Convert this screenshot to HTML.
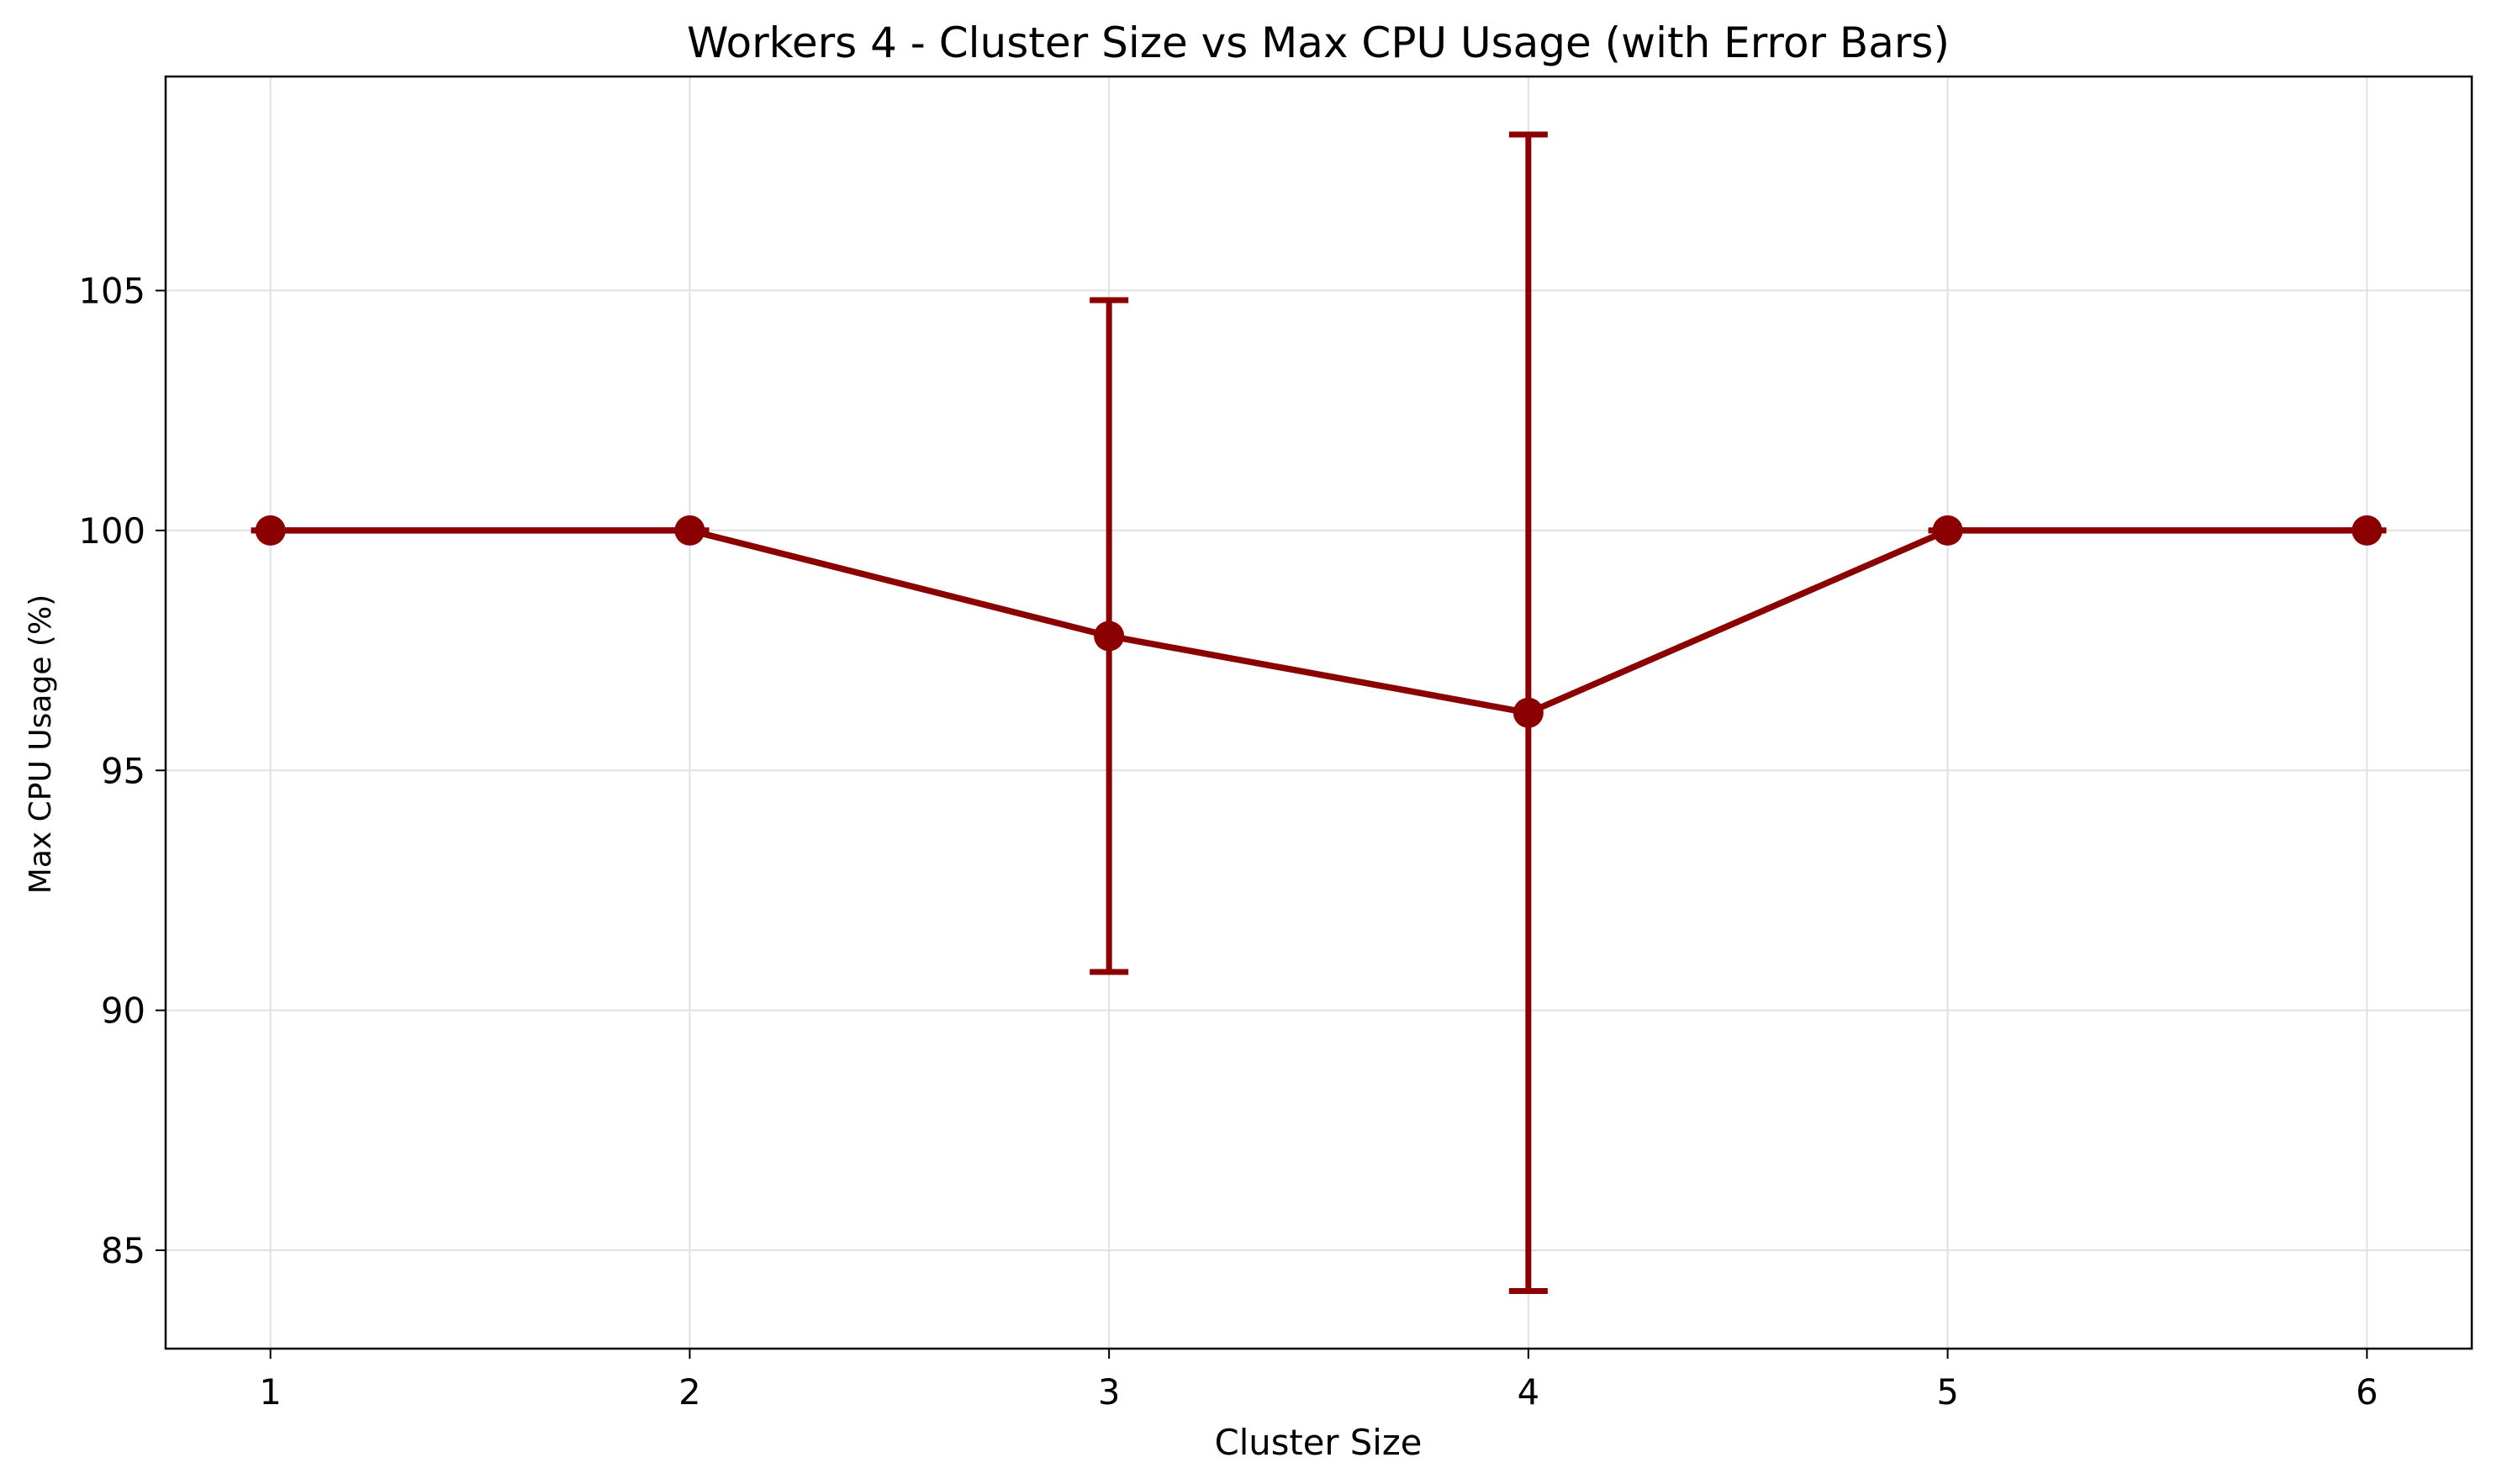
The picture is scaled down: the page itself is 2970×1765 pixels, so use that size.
<!DOCTYPE html>
<html><head><meta charset="utf-8"><style>
html,body{margin:0;padding:0;background:#fff;}
svg{display:block;font-family:"DejaVu Sans","Liberation Sans",sans-serif;}
</style></head><body>
<svg id="chart" width="2970" height="1765" viewBox="0 0 2970 1765" xmlns="http://www.w3.org/2000/svg">
<rect width="2970" height="1765" fill="#fff"/>
<g id="grid"></g>
<g id="ticks"></g>
<g id="errs"></g>
<g id="series"></g>
<rect x="197" y="91" width="2743" height="1513" fill="none" stroke="#000" stroke-width="2.5"/>
<text x="1568" y="68" text-anchor="middle" font-size="50">Workers 4 - Cluster Size vs Max CPU Usage (with Error Bars)</text>
<text x="1568" y="1730" text-anchor="middle" font-size="41.7">Cluster Size</text>
<text transform="translate(60,885) rotate(-90)" text-anchor="middle" font-size="36">Max CPU Usage (%)</text>
</svg>
<script>
const categories=[1,2,3,4,5,6];
const values=[100,100,97.8,96.2,100,100];
const errors=[0,0,7.0,12.05,0,0];
const xTicks=[1,2,3,4,5,6];
const yTicks=[85,90,95,100,105];
const L=197,R=2940,T=91,B=1604,xMin=0.75,xMax=6.25,yMin=82.95,yMax=109.46;
const NS="http://www.w3.org/2000/svg";
function xs(v){return L+(v-xMin)/(xMax-xMin)*(R-L);}
function ys(v){return B-(v-yMin)/(yMax-yMin)*(B-T);}
function mk(tag,attrs,parent,txt){const e=document.createElementNS(NS,tag);for(const k in attrs)e.setAttribute(k,attrs[k]);if(txt!==undefined)e.textContent=txt;document.getElementById(parent).appendChild(e);return e;}
xTicks.forEach(t=>{const x=xs(t);
 let g=mk('line',{x1:x,x2:x,y1:T,y2:B,stroke:'#e0e0e0','stroke-width':2},'grid');
 
 
 let k=mk('line',{x1:x,x2:x,y1:B,y2:B+12,stroke:'#000','stroke-width':2},'ticks');
 
 
 let l=mk('text',{x:x,y:B+66,'text-anchor':'middle','font-size':41.7},'ticks',String(t));
 
 
});
yTicks.forEach(t=>{const y=ys(t);
 let g=mk('line',{x1:L,x2:R,y1:y,y2:y,stroke:'#e0e0e0','stroke-width':2},'grid');
 
 
 let k=mk('line',{x1:L-12,x2:L,y1:y,y2:y,stroke:'#000','stroke-width':2},'ticks');
 
 
 let l=mk('text',{x:L-24,y:y+15,'text-anchor':'end','font-size':41.7},'ticks',String(t));
 
 
});
const C='#8b0000';
categories.forEach((c,i)=>{const x=xs(c),e=errors[i],v=values[i];
 const y1=ys(v+e),y2=ys(v-e);
 let b=mk('line',{x1:x,x2:x,y1:y1,y2:y2,stroke:C,'stroke-width':7},'errs');
 
 
 [y1,y2].forEach(y=>{let cap=mk('line',{x1:x-23,x2:x+23,y1:y,y2:y,stroke:C,'stroke-width':7},'errs');
  
  });
});
const pts=categories.map((c,i)=>xs(c)+','+ys(values[i])).join(' ');
let pl=mk('polyline',{points:pts,fill:'none',stroke:C,'stroke-width':7.5,'stroke-linejoin':'round'},'series');


categories.forEach((c,i)=>{let p=mk('circle',{cx:xs(c),cy:ys(values[i]),r:18,fill:C},'series');
 
 });
</script>
</body></html>
